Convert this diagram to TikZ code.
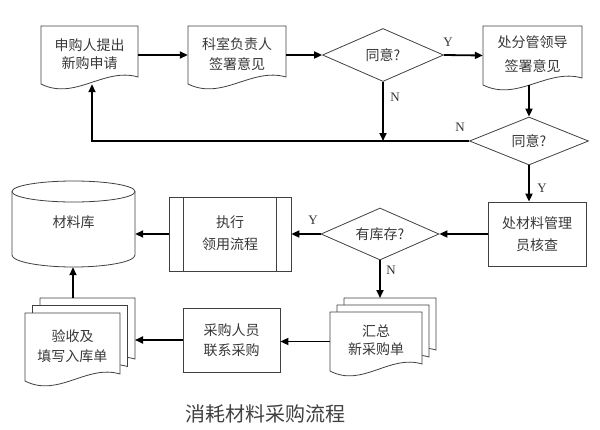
\documentclass[tikz,border=0pt]{standalone}
\usepackage{fontspec}
\setmainfont{Liberation Serif}
\newfontfamily\cjk{Noto Sans CJK SC}
\usetikzlibrary{arrows.meta,shapes.geometric,calc}
\newcommand\docpath[4]{(#1,#4) -- (#1,#2) -- (#3,#2) -- (#3,#4-7) .. controls ({#1+0.65*(#3-#1)},#4-17) and ({#1+0.35*(#3-#1)},#4+17) .. (#1,#4) -- cycle}
\begin{document}
\begin{tikzpicture}[x=1pt,y=-1pt,
  outline/.style={draw=black!75,line width=0.8pt,fill=white},
  txt/.style={font=\cjk\fontsize{14}{20}\selectfont,text=black!78,align=center,inner sep=0pt},
  boxn/.style={txt,rectangle,minimum width=#1,minimum height=58pt},
  rectbox/.style={txt,rectangle,draw=black!75,line width=0.8pt},
  dec/.style={txt,diamond,aspect=2.3,draw=black!75,line width=0.8pt},
  conn/.style={line width=1.8pt,-{Triangle[length=8pt,width=7pt]}},
  yn/.style={font=\fontsize{13}{13}\selectfont,text=black!80,inner sep=0pt}]
\useasboundingbox (0,0) rectangle (600,429);
% document shapes
\draw[outline] \docpath{41}{26}{138}{84};
\node[txt,minimum width=97pt,minimum height=58pt] (b1) at (89.5,55) {\raisebox{3pt}{\begin{tabular}{@{}c@{}}申购人提出\\[-2pt]新购申请\end{tabular}}};
\draw[outline] \docpath{188}{26}{286}{84};
\node[txt,minimum width=98pt,minimum height=58pt] (b2) at (237,55) {\raisebox{3pt}{\begin{tabular}{@{}c@{}}科室负责人\\签署意见\end{tabular}}};
\draw[outline] \docpath{483}{26}{582}{85};
\node[txt,minimum width=99pt,minimum height=59pt] (b3) at (532.5,55.5) {\raisebox{4pt}{\begin{tabular}{@{}c@{}}处分管领导\\[4pt]签署意见\end{tabular}}};
% diamonds
\node[dec,minimum width=121pt,minimum height=53pt] (d1) at (383,55) {同意?};
\node[dec,minimum width=119pt,minimum height=48pt] (d2) at (529,141) {同意?};
\node[dec,minimum width=118pt,minimum height=52pt] (d3) at (380,234) {有库存?};
% rectangles
\node[rectbox,minimum width=98pt,minimum height=64pt] (b4) at (537,234) {处材料管理\\[2pt]员核查};
\node[rectbox,minimum width=122pt,minimum height=74pt] (b5) at (230,234) {\raisebox{3pt}{\begin{tabular}{@{}c@{}}执行\\[2pt]领用流程\end{tabular}}};
\draw[black!75,line width=0.8pt] ([xshift=15pt]b5.north west) -- ([xshift=15pt]b5.south west)
  ([xshift=-15pt]b5.north east) -- ([xshift=-15pt]b5.south east);
\node[rectbox,minimum width=97pt,minimum height=64pt] (b8) at (231.5,340) {采购人员\\联系采购};
% cylinder
\draw[outline] (12,191.5) -- (12,255) arc[start angle=180,end angle=0,x radius=61.5,y radius=12] -- (135,191.5);
\draw[outline] (73.5,191.5) ellipse[x radius=61.5,y radius=10.5];
\node[txt,minimum width=123pt,minimum height=86pt] (cyl) at (73.5,224) {\raisebox{4pt}{材料库}};
% stacked documents
\draw[outline] \docpath{344}{298}{436}{357};
\draw[outline] \docpath{337}{305}{429}{364};
\draw[outline] \docpath{330}{312}{422}{371};
\node[txt,minimum width=92pt,minimum height=59pt] (b6) at (376,341.5) {\raisebox{10pt}{\begin{tabular}{@{}c@{}}汇总\\[-2pt]新采购单\end{tabular}}};
\draw[outline] \docpath{40}{298}{135}{366};
\draw[outline] \docpath{32.5}{305.5}{127.5}{373.5};
\draw[outline] \docpath{25}{313}{120}{381};
\node[txt,minimum width=95pt,minimum height=68pt] (b7) at (72.5,347) {\raisebox{15pt}{\begin{tabular}{@{}c@{}}验收及\\填写入库单\end{tabular}}};
\coordinate (b6t) at (382,298);
\coordinate (b7t) at (73,298);
\coordinate (b7r) at (135,340);
\coordinate (fb) at (383,141);
% connectors
\draw[conn] (b1.east) -- (b2.west);
\draw[conn] (b2.east) -- (d1.west);
\draw[conn] (d1.east) -- (b3.west);
\draw[conn] (d1.south) -- (fb);
\draw[conn] (d2.north |- b3.south) -- (d2.north);
\draw[conn] (d2.west) -- ([xshift=2.5pt]b1.south |- d2.west) -- ([xshift=2.5pt]b1.south);
\draw[conn] (d2.south) -- (d2.south |- b4.north);
\draw[conn] (b4.west) -- (d3.east);
\draw[conn] (d3.west) -- (b5.east);
\draw[conn] (b5.west) -- (b5.west -| cyl.east);
\draw[conn] (d3.south) -- (d3.south |- b6t);
\draw[conn] (b6.west) -- (b6.west -| b8.east);
\draw[conn] (b8.west) -- (b8.west -| b7r);
\draw[conn] (b7t) -- (b7t |- cyl.south);
% labels
\node[yn] (ly1) at (448,42) {Y};
\node[yn] (ln1) at (395,97) {N};
\node[yn] (ln2) at (460,127) {N};
\node[yn] (ly2) at (542,188) {Y};
\node[yn] (ly3) at (313,220) {Y};
\node[yn] (ln3) at (391,270) {N};
\node[font=\cjk\fontsize{20}{20}\selectfont,text=black!75,inner sep=0pt] (title) at (265,414) {消耗材料采购流程};
\end{tikzpicture}
\end{document}
